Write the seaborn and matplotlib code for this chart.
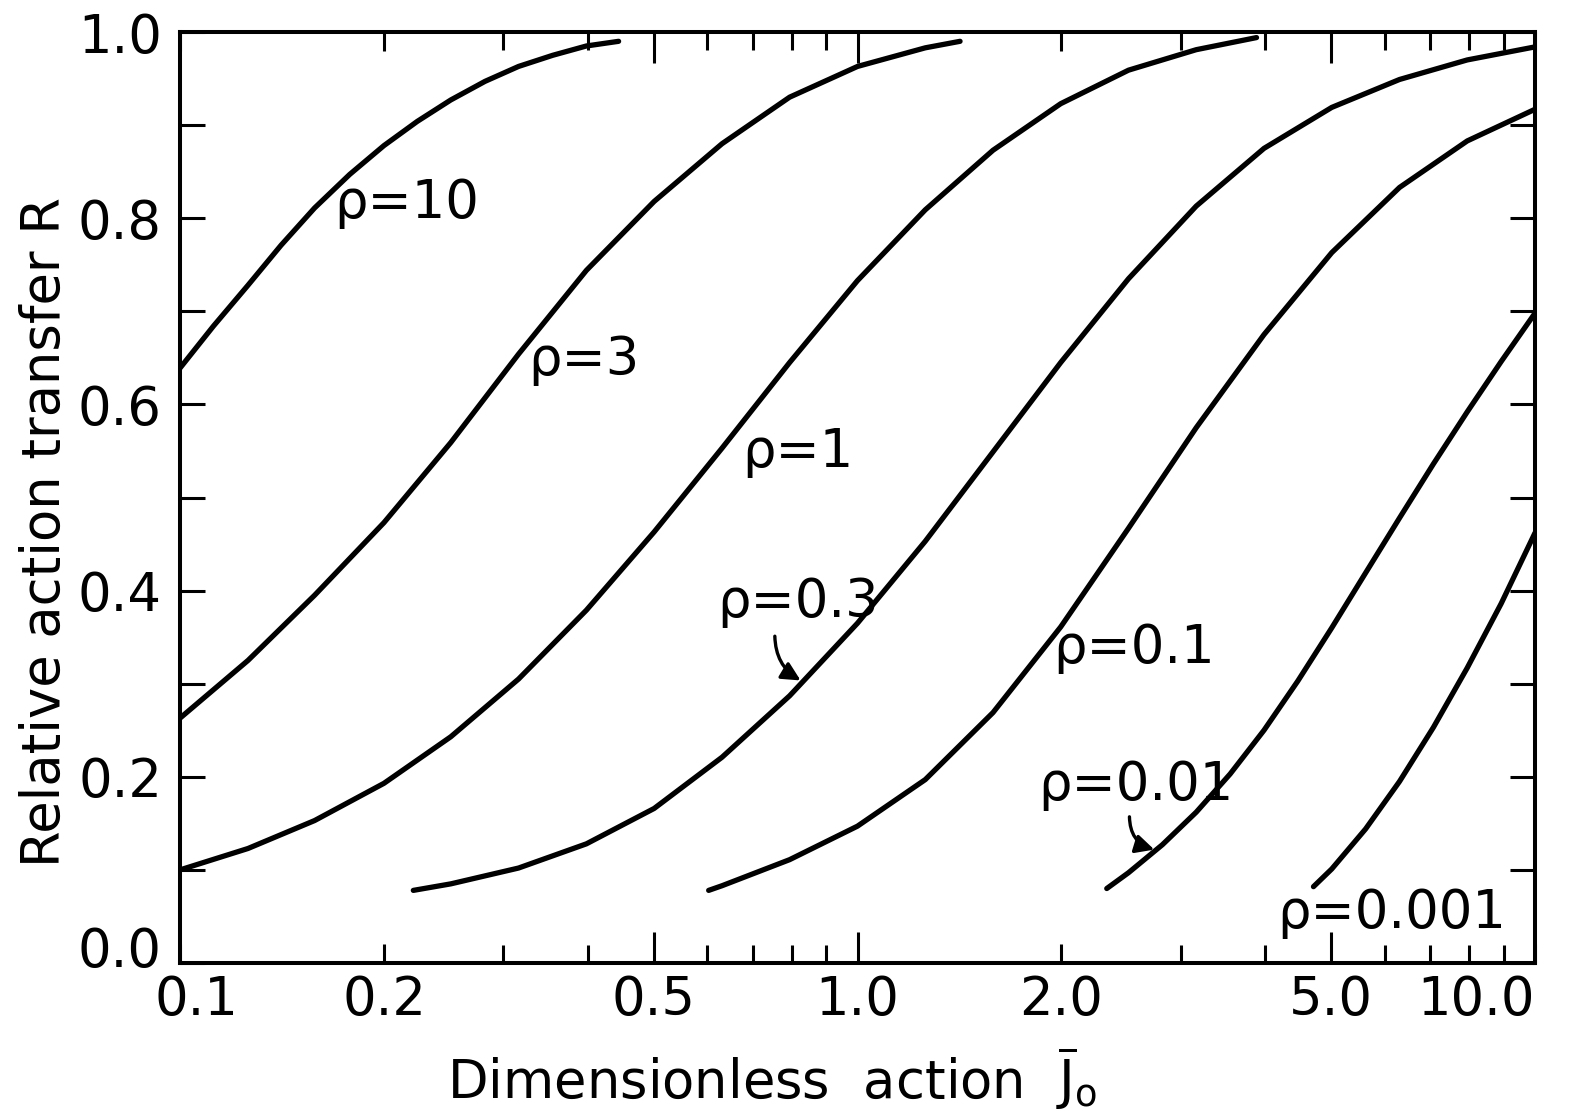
import numpy as np
import pandas as pd
import matplotlib
matplotlib.use("Agg")
import matplotlib.pyplot as plt
from matplotlib.ticker import NullFormatter
from matplotlib.transforms import ScaledTranslation
import seaborn as sns

# curves: relative action transfer R vs dimensionless action J0
rho10_x = [0.100, 0.112, 0.126, 0.141, 0.158, 0.178, 0.200, 0.224, 0.251, 0.282, 0.316, 0.355, 0.398, 0.444]
rho10_y = [0.639, 0.684, 0.728, 0.771, 0.811, 0.847, 0.878, 0.904, 0.927, 0.947, 0.963, 0.975, 0.985, 0.990]

rho3_x = [0.100, 0.126, 0.158, 0.200, 0.251, 0.316, 0.398, 0.501, 0.631, 0.794, 1.000, 1.259, 1.417]
rho3_y = [0.263, 0.325, 0.395, 0.473, 0.559, 0.654, 0.744, 0.818, 0.880, 0.930, 0.963, 0.983, 0.990]

rho1_x = [0.100, 0.126, 0.158, 0.200, 0.251, 0.316, 0.398, 0.501, 0.631, 0.794, 1.000, 1.259,
          1.585, 1.995, 2.512, 3.162, 3.881]
rho1_y = [0.100, 0.123, 0.153, 0.193, 0.243, 0.305, 0.379, 0.463, 0.553, 0.645, 0.733, 0.809,
          0.873, 0.923, 0.959, 0.981, 0.994]

rho03_x = [0.221, 0.251, 0.316, 0.398, 0.501, 0.631, 0.794, 1.000, 1.259, 1.585, 1.995, 2.512,
           3.162, 3.981, 5.012, 6.310, 7.943, 10.0]
rho03_y = [0.078, 0.085, 0.102, 0.128, 0.166, 0.221, 0.287, 0.365, 0.453, 0.549, 0.645, 0.735,
           0.813, 0.875, 0.919, 0.949, 0.970, 0.984]

rho01_x = [0.603, 0.631, 0.794, 1.000, 1.259, 1.585, 1.995, 2.512, 3.162, 3.981, 5.012, 6.310,
           7.943, 10.0]
rho01_y = [0.078, 0.083, 0.111, 0.147, 0.197, 0.269, 0.361, 0.467, 0.575, 0.675, 0.763, 0.833,
           0.883, 0.917]

rho001_x = [2.333, 2.512, 2.818, 3.162, 3.548, 3.981, 4.467, 5.012, 5.623, 6.310, 7.079, 7.943,
            8.913, 10.0]
rho001_y = [0.080, 0.097, 0.127, 0.162, 0.203, 0.250, 0.303, 0.360, 0.419, 0.478, 0.536, 0.592,
            0.646, 0.698]

rho0001_x = [4.710, 5.012, 5.623, 6.310, 7.079, 7.943, 8.913, 10.0]
rho0001_y = [0.082, 0.101, 0.144, 0.195, 0.253, 0.317, 0.386, 0.462]

curve_names = ["10", "3", "1", "0.3", "0.1", "0.01", "0.001"]
curve_x = [rho10_x, rho3_x, rho1_x, rho03_x, rho01_x, rho001_x, rho0001_x]
curve_y = [rho10_y, rho3_y, rho1_y, rho03_y, rho01_y, rho001_y, rho0001_y]

# label text positions (left / baseline), data coords
label_x = [0.1688, 0.3265, 0.675, 0.620, 1.944, 1.847, 4.16]
label_y = [0.800, 0.632, 0.533, 0.372, 0.322, 0.175, 0.038]

xtick_vals = [0.1, 0.2, 0.5, 1, 2, 5, 10]
xtick_text = ["0.1", "0.2", "0.5", "1.0", "2.0", "5.0", "10.0"]
xminor_vals = [0.3, 0.4, 0.6, 0.7, 0.8, 0.9, 3, 4, 6, 7, 8, 9]
ytick_vals = [0.0, 0.2, 0.4, 0.6, 0.8, 1.0]
ytick_text = ["0.0", "0.2", "0.4", "0.6", "0.8", "1.0"]
yminor_vals = [0.1, 0.3, 0.5, 0.7, 0.9]

rows = []
for name, xs, ys in zip(curve_names, curve_x, curve_y):
    for xv, yv in zip(xs, ys):
        rows.append({"rho": name, "J0": xv, "R": yv})
df = pd.DataFrame(rows)

sns.set_theme(style="ticks")
plt.rcParams['font.family'] = ['DejaVu Sans']
plt.rcParams['mathtext.fontset'] = 'dejavusans'
plt.rcParams['text.color'] = 'black'
plt.rcParams['axes.labelcolor'] = 'black'

fig = plt.figure(figsize=(15.88, 11.15), dpi=100)
ax = fig.add_axes([180 / 1588, 1 - 963 / 1115, 1355 / 1588, 931 / 1115])

sns.lineplot(data=df, x="J0", y="R", hue="rho", palette=["black"] * 7,
             estimator=None, errorbar=None, legend=False, linewidth=3.8, ax=ax,
             solid_capstyle="round", solid_joinstyle="round")

ax.set_xscale("log")
ax.set_xlim(0.1, 10)
ax.set_ylim(0, 1)

ax.set_xticks(xtick_vals, xtick_text)
ax.set_xticks(xminor_vals, minor=True)
ax.xaxis.set_minor_formatter(NullFormatter())
ax.set_yticks(ytick_vals, ytick_text)
ax.set_yticks(yminor_vals, minor=True)

ax.tick_params(which="both", direction="in", top=True, right=True, width=2.2,
               color="black", labelsize=38, labelcolor="black")
ax.tick_params(axis="x", which="major", length=14, pad=8)
ax.tick_params(axis="x", which="minor", length=13)
ax.tick_params(axis="y", which="both", length=18, pad=13)

# the 0.5, 1 and 5 ticks are drawn longer
for t, v in zip(ax.xaxis.get_major_ticks(), xtick_vals):
    if v in (0.5, 1, 5):
        t.tick1line.set_markersize(22)
        t.tick2line.set_markersize(22)

# corner labels nudged apart like in the original lettering
xl = ax.xaxis.get_majorticklabels()
xl[-1].set_horizontalalignment("right")
xl[0].set_transform(xl[0].get_transform() + ScaledTranslation(12 / 72, 0, fig.dpi_scale_trans))
yl = ax.yaxis.get_majorticklabels()
yl[0].set_transform(yl[0].get_transform() + ScaledTranslation(0, 12 / 72, fig.dpi_scale_trans))

for s in ax.spines.values():
    s.set_linewidth(2.9)
    s.set_color("black")

ax.set_xlabel(r"Dimensionless  action  $\overline{\mathrm{J}}_{\mathrm{o}}$", fontsize=38, color="black")
ax.xaxis.label.set_va("baseline")
ax.xaxis.set_label_coords(0.437, -0.146)
ax.set_ylabel("Relative action transfer R", fontsize=38, color="black")
ax.yaxis.label.set_va("center")
ax.yaxis.set_label_coords(-0.100, 0.463)

for name, lx, ly in zip(curve_names, label_x, label_y):
    ax.text(lx, ly, "ρ=" + name, fontsize=38, ha="left", va="baseline", color="black")

# little curved arrows pointing at the 0.3 and 0.01 curves
ax.annotate("", xy=(0.831, 0.302), xytext=(0.755, 0.354),
            arrowprops=dict(arrowstyle="-|>", color="black", lw=2.4,
                            connectionstyle="arc3,rad=0.3", mutation_scale=28))
ax.annotate("", xy=(2.767, 0.121), xytext=(2.52, 0.160),
            arrowprops=dict(arrowstyle="-|>", color="black", lw=2.4,
                            connectionstyle="arc3,rad=0.4", mutation_scale=28))

fig.savefig("out.png", dpi=100, facecolor="white")
